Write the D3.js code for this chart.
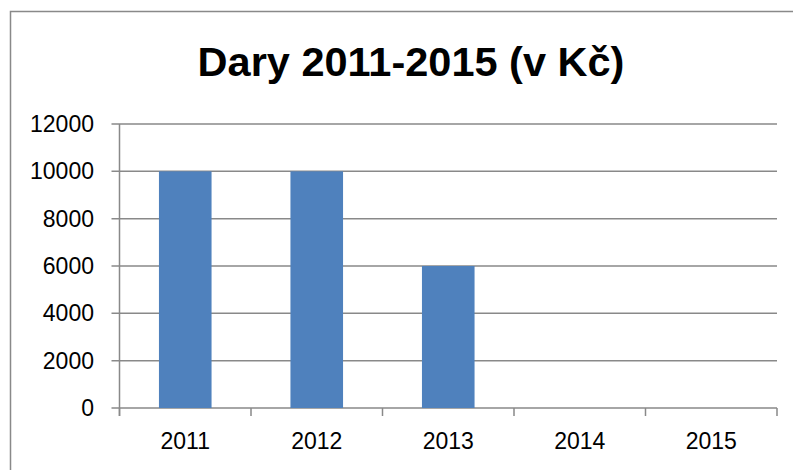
<!DOCTYPE html>
<html>
<head>
<meta charset="utf-8">
<script src="https://cdn.jsdelivr.net/npm/d3@7"></script>
<style>
  body { margin: 0; background: #fff; }
  svg { display: block; }
</style>
</head>
<body>
<div id="chart-area"></div>
<script>
let width = 793,
    height = 470;

// data
let years = ["2011", "2012", "2013", "2014", "2015"];
let gifts = [10000, 10000, 6000, 0, 0];
let yTicks = [0, 2000, 4000, 6000, 8000, 10000, 12000];
let title = "Dary 2011-2015 (v Kč)";

let barColor = '#4f81bd';
let lineColor = '#898989';

let margin = {left: 119.5, right: 16, top: 124, bottom: 62};

let svg = d3.select("#chart-area")
    .append("svg")
    .attr("width", width)
    .attr("height", height);

// chart frame (runs off the right and bottom edge)
svg.append("rect")
    .attr("x", 10.5)
    .attr("y", 11.5)
    .attr("width", 900)
    .attr("height", 600)
    .attr("fill", "none")
    .attr("stroke", lineColor)
    .attr("stroke-width", 1.5);

let x = d3.scaleBand()
    .domain(years)
    .range([margin.left, width - margin.right])
    .paddingInner(0.6)
    .paddingOuter(0.3);

// band for ticks (category boundaries)
let xCat = d3.scaleBand()
    .domain(years)
    .range([margin.left, width - margin.right]);

let y = d3.scaleLinear()
    .domain([0, 12000])
    .range([height - margin.bottom, margin.top]);

// gridlines
svg.append("g")
    .selectAll("line")
    .data(yTicks)
    .enter()
    .append("line")
    .attr("x1", margin.left - 8)
    .attr("x2", width - margin.right)
    .attr("y1", d => y(d))
    .attr("y2", d => y(d))
    .attr("stroke", lineColor)
    .attr("stroke-width", 1.5);

// y tick labels
svg.append("g")
    .selectAll("text")
    .data(yTicks)
    .enter()
    .append("text")
    .attr("x", 94)
    .attr("y", d => y(d))
    .attr("dy", "0.35em")
    .attr("text-anchor", "end")
    .style("font-family", "'Liberation Sans', Arial, sans-serif")
    .style("font-size", "23px")
    .text(d => d);

// bars
svg.append("g")
    .selectAll("rect")
    .data(gifts)
    .enter()
    .append("rect")
    .attr("x", (d, i) => x(years[i]))
    .attr("width", x.bandwidth())
    .attr("y", d => y(d))
    .attr("height", d => y(0) - y(d))
    .attr("fill", barColor);

// y axis line
svg.append("line")
    .attr("x1", margin.left)
    .attr("x2", margin.left)
    .attr("y1", y(12000))
    .attr("y2", y(0) + 8)
    .attr("stroke", lineColor)
    .attr("stroke-width", 1.5);

// x axis ticks at category edges
let edges = years.map(d => xCat(d)).concat([xCat(years[years.length - 1]) + xCat.bandwidth()]);
svg.append("g")
    .selectAll("line")
    .data(edges)
    .enter()
    .append("line")
    .attr("x1", d => d)
    .attr("x2", d => d)
    .attr("y1", y(0))
    .attr("y2", y(0) + 8)
    .attr("stroke", lineColor)
    .attr("stroke-width", 1.5);

// x labels
svg.append("g")
    .selectAll("text")
    .data(years)
    .enter()
    .append("text")
    .attr("x", d => xCat(d) + xCat.bandwidth() / 2)
    .attr("y", 449)
    .attr("text-anchor", "middle")
    .style("font-family", "'Liberation Sans', Arial, sans-serif")
    .style("font-size", "23px")
    .text(d => d);

// title
svg.append("text")
    .attr("x", 411)
    .attr("y", 76)
    .attr("text-anchor", "middle")
    .style("font-family", "'Liberation Sans', Arial, sans-serif")
    .style("font-weight", "bold")
    .style("font-size", "41.5px")
    .text(title);
</script>
</body>
</html>
